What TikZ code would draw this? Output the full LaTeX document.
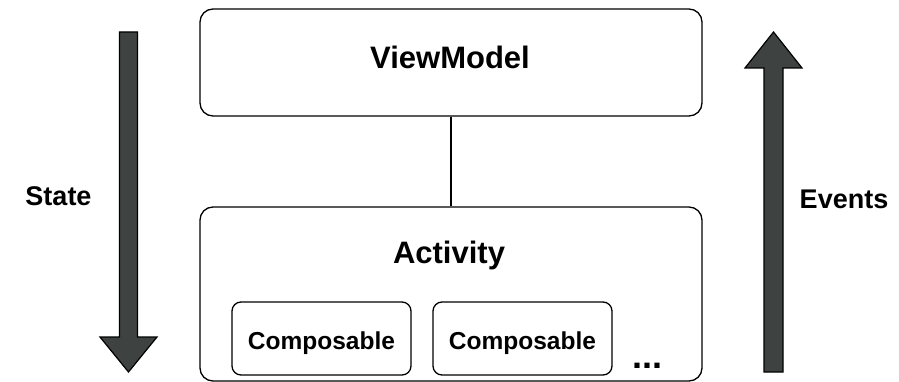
\documentclass[tikz,border=0pt]{standalone}
\usepackage{fontspec}
\setmainfont{Liberation Sans}
\usepackage{tikz}

\definecolor{arrowgray}{RGB}{62,67,65}

\begin{document}
\begin{tikzpicture}[x=1pt, y=-1pt,
  box/.style={draw, line width=1.3pt, rounded corners=13pt, inner sep=0pt},
  cbox/.style={draw, line width=1.3pt, rounded corners=9pt, inner sep=0pt, minimum width=179pt, minimum height=73pt},
  big/.style={font=\fontsize{31}{31}\selectfont\bfseries, anchor=base},
  mid/.style={font=\fontsize{27}{27}\selectfont\bfseries, anchor=base},
  small/.style={font=\fontsize{24.5}{24.5}\selectfont\bfseries, anchor=base},
  blockarrow/.style={draw=black, line width=1.2pt, fill=arrowgray, line join=miter}]

\useasboundingbox (0,0) rectangle (899,382);

\node[box, minimum width=502pt, minimum height=174pt] (act) at (451,294) {};
\node[box, minimum width=502pt, minimum height=107pt] (vm) at (451,62.5) {};
\node[cbox] (c1) at (321.5,338.5) {};
\node[cbox] (c2) at (522.5,338.5) {};

\node[big] (vmt) at (450,69) {ViewModel};
\node[big] (actt) at (449,263) {Activity};
\node[small] (c1t) at (321.5,349) {Composable};
\node[small] (c2t) at (522.5,349) {Composable};
\node[font=\fontsize{36}{36}\selectfont\bfseries, anchor=base] (more) at (647.5,368.5) {...};

\draw[line width=1.3pt] (vm) -- (act);

% state goes down, events go up
\draw[blockarrow] (119.5,32) -- (137.5,32) -- (137.5,337) -- (157,337) -- (128.5,372) -- (100,337) -- (119.5,337) -- cycle;
\draw[blockarrow] (764,372) -- (783,372) -- (783,68) -- (802,68) -- (773.5,32) -- (745,68) -- (764,68) -- cycle;

\node[mid] (state) at (58.5,206) {State};
\node[mid] (events) at (844,208) {Events};
\end{tikzpicture}
\end{document}
